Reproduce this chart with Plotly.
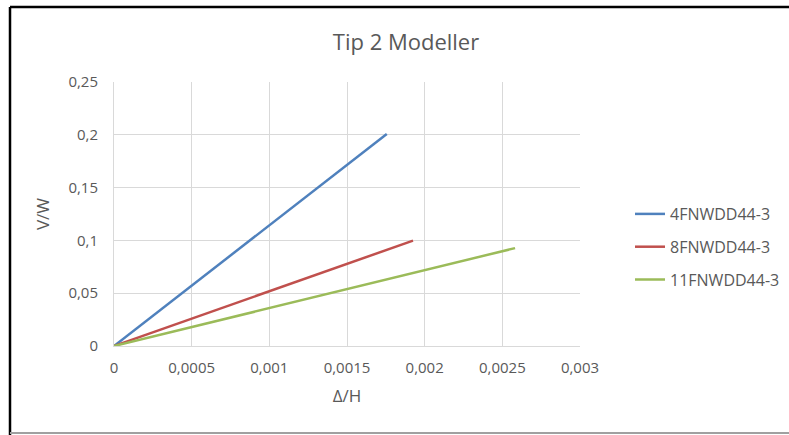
import plotly.graph_objects as go

series_names = ["4FNWDD44-3", "8FNWDD44-3", "11FNWDD44-3"]
x_values = [
    [0, 0.001756],
    [0, 0.001925],
    [0, 0.002582],
]
y_values = [
    [0, 0.2007],
    [0, 0.0998],
    [0, 0.0927],
]
colors = ["#4F81BD", "#C0504D", "#9BBB59"]

x_tickvals = [0, 0.0005, 0.001, 0.0015, 0.002, 0.0025, 0.003]
x_ticktext = ["0", "0,0005", "0,001", "0,0015", "0,002", "0,0025", "0,003"]
y_tickvals = [0, 0.05, 0.1, 0.15, 0.2, 0.25]
y_ticktext = ["0", "0,05", "0,1", "0,15", "0,2", "0,25"]

FONT = "Open Sans"
TXT = "#595959"
GRID = "#D9D9D9"

L, R, T, B = 114, 580, 82, 346
W, H = 789, 435
PW, PH = R - L, B - T

fig = go.Figure()
for name, xs, ys, c in zip(series_names, x_values, y_values, colors):
    fig.add_trace(go.Scatter(x=xs, y=ys, mode="lines", name=name, legendgroup=name,
                             line=dict(color=c, width=2.5)))

fig.update_layout(
    width=W, height=H,
    margin=dict(l=L, r=W - R, t=T, b=H - B, pad=0, autoexpand=False),
    paper_bgcolor="white", plot_bgcolor="white",
    font=dict(family=FONT, color=TXT, size=14),
    title=dict(text="Tip 2 Modeller", x=406 / W, xanchor="center", y=1 - 42 / H, yanchor="middle",
               font=dict(size=22, color=TXT, family=FONT)),
    showlegend=True,
    legend=dict(x=(630 - L) / PW, y=(B - 197) / PH, xanchor="left", yanchor="top",
                font=dict(size=16, color=TXT, family=FONT),
                tracegroupgap=9, itemwidth=30, bgcolor="rgba(0,0,0,0)"),
    xaxis=dict(range=[0, 0.003], tickvals=x_tickvals, ticktext=x_ticktext,
               showgrid=True, gridcolor=GRID, gridwidth=1,
               zeroline=False, showline=True, linecolor=GRID, linewidth=1,
               ticks="", ticklabelstandoff=8, tickfont=dict(size=15),
               title=dict(text="Δ/H", font=dict(size=17, color=TXT, family=FONT), standoff=14)),
    yaxis=dict(range=[0, 0.25], tickvals=y_tickvals, ticktext=y_ticktext,
               showgrid=True, gridcolor=GRID, gridwidth=1,
               zeroline=False, showline=True, linecolor=GRID, linewidth=1,
               ticks="", ticklabelstandoff=12, tickfont=dict(size=15),
               title=dict(text="V/W", font=dict(size=17, color=TXT, family=FONT), standoff=14)),
)

def px_x(p):
    return (p - L) / PW

def px_y(p):
    return (B - p) / PH

# outer frame lines (screenshot border)
fig.add_shape(type="line", xref="paper", yref="paper",
              x0=px_x(10), x1=px_x(10), y0=px_y(H), y1=px_y(7),
              line=dict(color="black", width=2.5))
fig.add_shape(type="line", xref="paper", yref="paper",
              x0=px_x(10), x1=px_x(W + 5), y0=px_y(7), y1=px_y(7),
              line=dict(color="black", width=2.5))
fig.add_shape(type="line", xref="paper", yref="paper",
              x0=px_x(10), x1=px_x(W + 5), y0=px_y(433), y1=px_y(433),
              line=dict(color="#A0A0A0", width=2))

fig.write_html("out.html", config={"displayModeBar": False},
               post_script="document.body.style.margin='0';document.body.style.overflow='hidden';")
